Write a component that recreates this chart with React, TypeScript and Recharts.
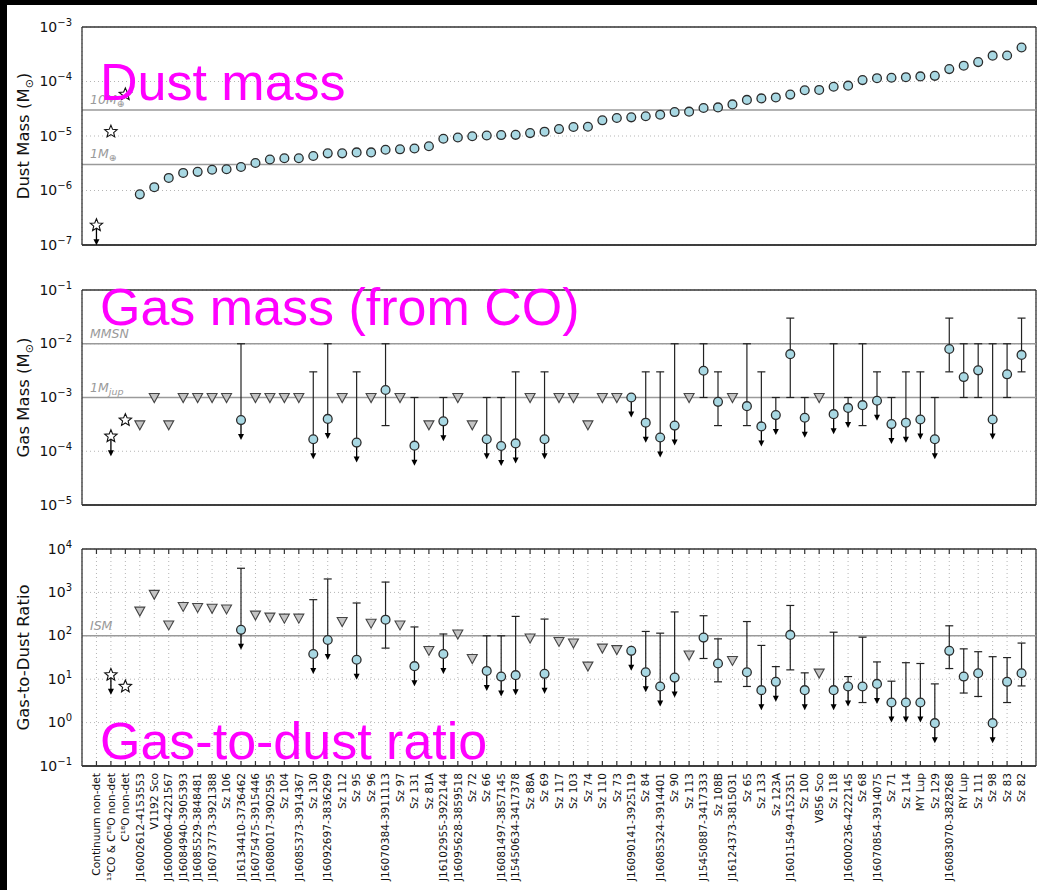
import React from 'react';
import { ScatterChart, Scatter, XAxis, YAxis, CartesianGrid, ReferenceLine, ErrorBar } from 'recharts';

const FONT = '"DejaVu Sans", Verdana, sans-serif';
const _ = null;

const sources = [
  'Continuum non-det', '¹³CO & C¹⁸O non-det', 'C¹⁸O non-det', 'J16002612-4153553', 'V1192 Sco',
  'J16000060-4221567', 'J16084940-3905393', 'J16085529-3848481', 'J16073773-3921388', 'Sz 106',
  'J16134410-3736462', 'J16075475-3915446', 'J16080017-3902595', 'Sz 104', 'J16085373-3914367',
  'Sz 130', 'J16092697-3836269', 'Sz 112', 'Sz 95', 'Sz 96',
  'J16070384-3911113', 'Sz 97', 'Sz 131', 'Sz 81A', 'J16102955-3922144',
  'J16095628-3859518', 'Sz 72', 'Sz 66', 'J16081497-3857145', 'J15450634-3417378',
  'Sz 88A', 'Sz 69', 'Sz 117', 'Sz 103', 'Sz 74',
  'Sz 110', 'Sz 73', 'J16090141-3925119', 'Sz 84', 'J16085324-3914401',
  'Sz 90', 'Sz 113', 'J15450887-3417333', 'Sz 108B', 'J16124373-3815031',
  'Sz 65', 'Sz 133', 'Sz 123A', 'J16011549-4152351', 'Sz 100',
  'V856 Sco', 'Sz 118', 'J16000236-4222145', 'Sz 68', 'J16070854-3914075',
  'Sz 71', 'Sz 114', 'MY Lup', 'Sz 129', 'J16083070-3828268',
  'RY Lup', 'Sz 111', 'Sz 98', 'Sz 83', 'Sz 82',
];

// S = stacked non-detection (star), T = CO non-detection (triangle), C = detection (circle)
const markerKind = 'SSSTTTTTTTCTTTTCCTCTCTCTCTTCCCTCTTTTTCCCCTCCTCCCCCTCCCCCCCCCCCCCC'.split('');

// 1 = upper limit (arrow) on gas mass and gas-to-dust ratio
const upperLimit = [
  0, 1, 0, 0, 0, 0, 0, 0, 0, 0,
  1, 0, 0, 0, 0, 1, 1, 0, 1, 0,
  0, 0, 1, 0, 1, 0, 0, 1, 1, 1,
  0, 1, 0, 0, 0, 0, 0, 1, 1, 1,
  1, 0, 0, 0, 0, 0, 1, 1, 0, 1,
  0, 1, 1, 0, 1, 1, 1, 1, 1, 0,
  0, 0, 1, 0, 0,
];
// only the continuum non-detection is a dust upper limit
const dustUpperLimit = ['Continuum non-det'];

const dustMass = [
  2.3e-7, 1.2e-5, 5.8e-5, 8.5e-7, 1.15e-6, 1.7e-6, 2.1e-6, 2.2e-6, 2.4e-6, 2.45e-6,
  2.7e-6, 3.2e-6, 3.7e-6, 3.9e-6, 3.9e-6, 4.3e-6, 4.8e-6, 4.8e-6, 5.0e-6, 5.0e-6,
  5.6e-6, 5.7e-6, 5.9e-6, 6.5e-6, 8.9e-6, 9.4e-6, 9.9e-6, 1.02e-5, 1.04e-5, 1.05e-5,
  1.13e-5, 1.2e-5, 1.34e-5, 1.46e-5, 1.48e-5, 1.94e-5, 2.14e-5, 2.2e-5, 2.3e-5, 2.46e-5,
  2.75e-5, 2.8e-5, 3.27e-5, 3.35e-5, 3.8e-5, 4.6e-5, 4.9e-5, 5.1e-5, 5.75e-5, 6.9e-5,
  7.0e-5, 8.0e-5, 8.4e-5, 1.06e-4, 1.15e-4, 1.17e-4, 1.2e-4, 1.24e-4, 1.27e-4, 1.69e-4,
  1.95e-4, 2.27e-4, 2.98e-4, 3.0e-4, 4.2e-4,
];

const gasMass = [
  _, 1.9e-4, 3.8e-4, 3.1e-4, 1e-3, 3.1e-4, 1e-3, 1e-3, 1e-3, 1e-3,
  3.8e-4, 1e-3, 1e-3, 1e-3, 1e-3, 1.67e-4, 4e-4, 1e-3, 1.45e-4, 1e-3,
  1.38e-3, 1e-3, 1.27e-4, 3.1e-4, 3.6e-4, 1e-3, 3.1e-4, 1.67e-4, 1.25e-4, 1.4e-4,
  1e-3, 1.67e-4, 1e-3, 1e-3, 3.1e-4, 1e-3, 1e-3, 1e-3, 3.4e-4, 1.8e-4,
  3e-4, 1e-3, 3.15e-3, 8.3e-4, 1e-3, 6.9e-4, 2.9e-4, 4.7e-4, 6.4e-3, 4.2e-4,
  1e-3, 4.9e-4, 6.4e-4, 7.2e-4, 8.7e-4, 3.2e-4, 3.4e-4, 3.9e-4, 1.67e-4, 8e-3,
  2.4e-3, 3.2e-3, 3.9e-4, 2.7e-3, 6.2e-3,
];
const gasLow = [
  _, _, _, _, _, _, _, _, _, _,
  _, _, _, _, _, _, _, _, _, _,
  3e-4, _, _, _, _, _, _, _, _, _,
  _, _, _, _, _, _, _, _, _, _,
  _, _, 1e-3, 3e-4, _, 3e-4, _, _, 1e-3, _,
  _, _, _, 3e-4, _, _, _, _, _, 3e-3,
  1e-3, 1e-3, _, 1e-3, 3e-3,
];
const gasHigh = [
  _, _, _, _, _, _, _, _, _, _,
  1e-2, _, _, _, _, 3e-3, 1e-2, _, 3e-3, _,
  1e-2, _, 1e-3, _, 1e-3, _, _, 1e-3, 1e-3, 3e-3,
  _, 3e-3, _, _, _, _, _, _, 3e-3, 3e-3,
  1e-2, _, 1e-2, 3e-3, _, 1e-2, 3e-3, 1e-3, 3e-2, 1e-3,
  _, 1e-2, 1e-3, 1e-2, 3e-3, 1e-3, 3e-3, 3e-3, 1e-3, 3e-2,
  1e-2, 1e-2, 1e-2, 1e-2, 3e-2,
];

const gasToDust = [
  _, 12.6, 6.8, 370, 900, 178, 475, 450, 430, 415,
  137, 300, 270, 255, 255, 38, 80, 213, 28, 195,
  235, 178, 20, 46, 38, 110, 30, 15.5, 11.5, 12.4,
  89, 13.3, 74, 68, 20, 52, 48, 45, 14.5, 6.8,
  10.9, 36, 91, 23, 27, 14.5, 5.6, 8.7, 105, 5.6,
  13.8, 5.6, 6.8, 6.8, 7.8, 2.9, 2.9, 2.9, 0.97, 45,
  11.5, 13.7, 0.97, 8.7, 13.7,
];
const ratioLow = [
  _, _, _, _, _, _, _, _, _, _,
  _, _, _, _, _, _, _, _, _, _,
  52, _, _, _, _, _, _, _, _, _,
  _, _, _, _, _, _, _, _, _, _,
  _, _, 30, 8.7, _, 6.8, _, _, 16.4, _,
  _, _, _, 2.9, _, _, _, _, _, 17.6,
  4.8, 4, _, 2.9, 7,
];
const ratioHigh = [
  _, _, _, _, _, _, _, _, _, _,
  3600, _, _, _, _, 680, 2040, _, 570, _,
  1730, _, 160, _, 110, _, _, 100, 100, 280,
  _, 243, _, _, _, _, _, _, 126, 115,
  355, _, 290, 85, _, 213, 60, 19.5, 500, 14,
  _, 121, 11.5, 93, 25, 9, 24, 23, 7.8, 170,
  50, 43, 33, 31.5, 68,
];

const dustTicks = [1e-7, 1e-6, 1e-5, 1e-4, 1e-3];
const gasTicks = [1e-5, 1e-4, 1e-3, 1e-2, 1e-1];
const ratioTicks = [1e-1, 1, 10, 100, 1000, 10000];

const X_DOMAIN: [number, number] = [-1, 65];
const xTicks = sources.map((_s, i) => i);

type Pt = { x: number; y: number; kind: string; limit: boolean; err?: [number, number] };

function buildPoints(
  values: (number | null)[],
  lows: (number | null)[] | null,
  highs: (number | null)[] | null,
  isLimit: (i: number) => boolean,
  kindOf: (i: number) => string,
): Pt[] {
  const pts: Pt[] = [];
  values.forEach((v, i) => {
    if (v == null) return;
    const hi = highs ? highs[i] : null;
    const lo = lows ? lows[i] : null;
    pts.push({
      x: i,
      y: v,
      kind: kindOf(i),
      limit: isLimit(i),
      err: hi == null ? undefined : [v - (lo ?? v), hi - v],
    });
  });
  return pts;
}

const dustPoints = buildPoints(
  dustMass, null, null,
  (i) => dustUpperLimit.includes(sources[i]),
  (i) => (markerKind[i] === 'S' ? 'S' : 'C'),
);
const gasPoints = buildPoints(gasMass, gasLow, gasHigh, (i) => upperLimit[i] === 1, (i) => markerKind[i]);
const ratioPoints = buildPoints(gasToDust, ratioLow, ratioHigh, (i) => upperLimit[i] === 1, (i) => markerKind[i]);

function starPath(cx: number, cy: number) {
  const pts: string[] = [];
  for (let k = 0; k < 10; k++) {
    const a = (-90 + k * 36) * (Math.PI / 180);
    const r = k % 2 === 0 ? 6.5 : 2.9;
    pts.push(`${(cx + r * Math.cos(a)).toFixed(2)},${(cy + r * Math.sin(a)).toFixed(2)}`);
  }
  return pts.join(' ');
}

function Marker(props: any) {
  const { cx, cy, payload } = props;
  if (cx == null || cy == null || !payload) return null;
  let mark: React.ReactNode;
  if (payload.kind === 'S') {
    mark = <polygon points={starPath(cx, cy)} fill="#fff" stroke="#111" strokeWidth={1.1} />;
  } else if (payload.kind === 'T') {
    mark = (
      <polygon
        points={`${cx - 5},${cy - 4} ${cx + 5},${cy - 4} ${cx},${cy + 5}`}
        fill="#c4c4c4"
        stroke="#444"
        strokeWidth={1.1}
      />
    );
  } else {
    mark = <circle cx={cx} cy={cy} r={4.4} fill="#a8d8e3" stroke="#2b2b2b" strokeWidth={1.3} />;
  }
  return (
    <g>
      {payload.limit && (
        <g>
          <line x1={cx} y1={cy} x2={cx} y2={cy + 15} stroke="#000" strokeWidth={1.3} />
          <polygon points={`${cx - 3},${cy + 14} ${cx + 3},${cy + 14} ${cx},${cy + 20}`} fill="#000" />
        </g>
      )}
      {mark}
    </g>
  );
}

function PowTick(props: any) {
  const { x, y, payload } = props;
  const exp = Math.round(Math.log10(payload.value));
  return (
    <text x={x} y={y} dy={4.5} textAnchor="end" fontFamily={FONT} fontSize={14} fill="#111">
      10
      <tspan dy={-6} fontSize={10}>
        {exp < 0 ? '\u2212' + Math.abs(exp) : String(exp)}
      </tspan>
    </text>
  );
}

function BottomTick(props: any) {
  const { x, y, payload } = props;
  return (
    <g>
      <line x1={x} y1={y} x2={x} y2={y - 5} stroke="#333" strokeWidth={1.2} />
      <text
        transform={`translate(${x},${y + 7}) rotate(-90)`}
        textAnchor="end"
        dy="0.35em"
        fontFamily={FONT}
        fontSize={10.6}
        fill="#111"
      >
        {sources[payload.value]}
      </text>
    </g>
  );
}

function TopTick(props: any) {
  const { x, y } = props;
  return <line x1={x} y1={y} x2={x} y2={y + 5} stroke="#333" strokeWidth={1.2} />;
}

function LineLabel(props: any) {
  const { viewBox, main, sub } = props;
  if (!viewBox) return null;
  return (
    <text x={viewBox.x + 8} y={viewBox.y - 6} fontFamily={FONT} fontStyle="italic" fontSize={12.5} fill="#9a9a9a">
      {main}
      {sub && (
        <tspan dy={3} fontSize={9.5}>
          {sub}
        </tspan>
      )}
    </text>
  );
}

function AxisTitle(props: any) {
  const { viewBox, text, sub, tail } = props;
  if (!viewBox) return null;
  const cx = viewBox.x + 15;
  const cy = viewBox.y + viewBox.height / 2;
  return (
    <text
      x={cx}
      y={cy}
      transform={`rotate(-90, ${cx}, ${cy})`}
      textAnchor="middle"
      dy="0.35em"
      fontFamily={FONT}
      fontSize={16.5}
      fill="#111"
    >
      {text}
      {sub && (
        <tspan dy={4} fontSize={11}>
          {sub}
        </tspan>
      )}
      {tail && <tspan dy={sub ? -4 : 0}>{tail}</tspan>}
    </text>
  );
}

type PanelProps = {
  top: number;
  height: number;
  marginTop: number;
  marginBottom: number;
  bottomHeight: number;
  labels: boolean;
  points: Pt[];
  domain: [number, number];
  ticks: number[];
  title: React.ReactElement;
  refs: { y: number; main: string; sub?: string }[];
};

function Panel({ top, height, marginTop, marginBottom, bottomHeight, labels, points, domain, ticks, title, refs }: PanelProps) {
  return (
    <div style={{ position: 'absolute', left: 0, top }}>
      <ScatterChart width={1037} height={height} margin={{ top: marginTop, right: 1, bottom: marginBottom, left: 8 }}>
        <CartesianGrid stroke="#b5b5b5" strokeDasharray="1 3" />
        <XAxis
          type="number"
          dataKey="x"
          domain={X_DOMAIN}
          ticks={xTicks}
          interval={0}
          allowDataOverflow
          height={bottomHeight}
          tickSize={0}
          tickMargin={0}
          tickLine={false}
          tick={labels ? <BottomTick /> : false}
          axisLine={{ stroke: '#333', strokeWidth: 1.3 }}
        />
        <XAxis
          xAxisId="top"
          orientation="top"
          type="number"
          dataKey="x"
          domain={X_DOMAIN}
          ticks={xTicks}
          interval={0}
          allowDataOverflow
          height={1}
          tickSize={0}
          tickMargin={0}
          tickLine={false}
          tick={labels ? <TopTick /> : false}
          axisLine={{ stroke: '#333', strokeWidth: 1.3 }}
        />
        <YAxis
          type="number"
          dataKey="y"
          scale="log"
          domain={domain}
          ticks={ticks}
          interval={0}
          allowDataOverflow
          width={74}
          tickLine={false}
          tickMargin={4}
          tick={<PowTick />}
          axisLine={{ stroke: '#333', strokeWidth: 1.3 }}
          label={title}
        />
        <ReferenceLine x={65} stroke="#333" strokeWidth={1.3} ifOverflow="visible" />
        <ReferenceLine y={domain[0]} stroke="#333" strokeWidth={1.3} ifOverflow="visible" />
        {refs.map((r) => (
          <ReferenceLine
            key={r.main + r.y}
            y={r.y}
            stroke="#9a9a9a"
            strokeWidth={1.4}
            label={<LineLabel main={r.main} sub={r.sub} />}
          />
        ))}
        <Scatter data={points} shape={<Marker />} isAnimationActive={false}>
          <ErrorBar dataKey="err" direction="y" width={4} stroke="#222" strokeWidth={1.2} />
        </Scatter>
      </ScatterChart>
    </div>
  );
}

export default function App() {
  return (
    <div style={{ position: 'absolute', left: 0, top: 0, width: 1037, height: 890, background: '#000', overflow: 'hidden' }}>
      <div style={{ position: 'absolute', left: 7, top: 5, right: 0, bottom: 0, background: '#fff' }} />
      <Panel
        top={0}
        height={258}
        marginTop={26}
        marginBottom={12}
        bottomHeight={1}
        labels={false}
        points={dustPoints}
        domain={[1e-7, 1e-3]}
        ticks={dustTicks}
        title={<AxisTitle text="Dust Mass (M" sub="⊙" tail=")" />}
        refs={[
          { y: 3e-5, main: '10M', sub: '⊕' },
          { y: 3e-6, main: '1M', sub: '⊕' },
        ]}
      />
      <Panel
        top={260}
        height={258}
        marginTop={29}
        marginBottom={12}
        bottomHeight={1}
        labels={false}
        points={gasPoints}
        domain={[1e-5, 1e-1]}
        ticks={gasTicks}
        title={<AxisTitle text="Gas Mass (M" sub="⊙" tail=")" />}
        refs={[
          { y: 1e-2, main: 'MMSN' },
          { y: 1e-3, main: '1M', sub: 'jup' },
        ]}
      />
      <Panel
        top={500}
        height={390}
        marginTop={48}
        marginBottom={0}
        bottomHeight={124}
        labels={true}
        points={ratioPoints}
        domain={[1e-1, 1e4]}
        ticks={ratioTicks}
        title={<AxisTitle text="Gas-to-Dust Ratio" />}
        refs={[{ y: 100, main: 'ISM' }]}
      />
      <svg width={1037} height={890} style={{ position: 'absolute', left: 0, top: 0, pointerEvents: 'none' }}>
        <g fontFamily='"Liberation Sans", Arial, sans-serif' fontSize={52} fill="#ff00ff">
          <text x={100} y={100}>Dust mass</text>
          <text x={100} y={325}>Gas mass (from CO)</text>
          <text x={100} y={759}>Gas-to-dust ratio</text>
        </g>
      </svg>
    </div>
  );
}
